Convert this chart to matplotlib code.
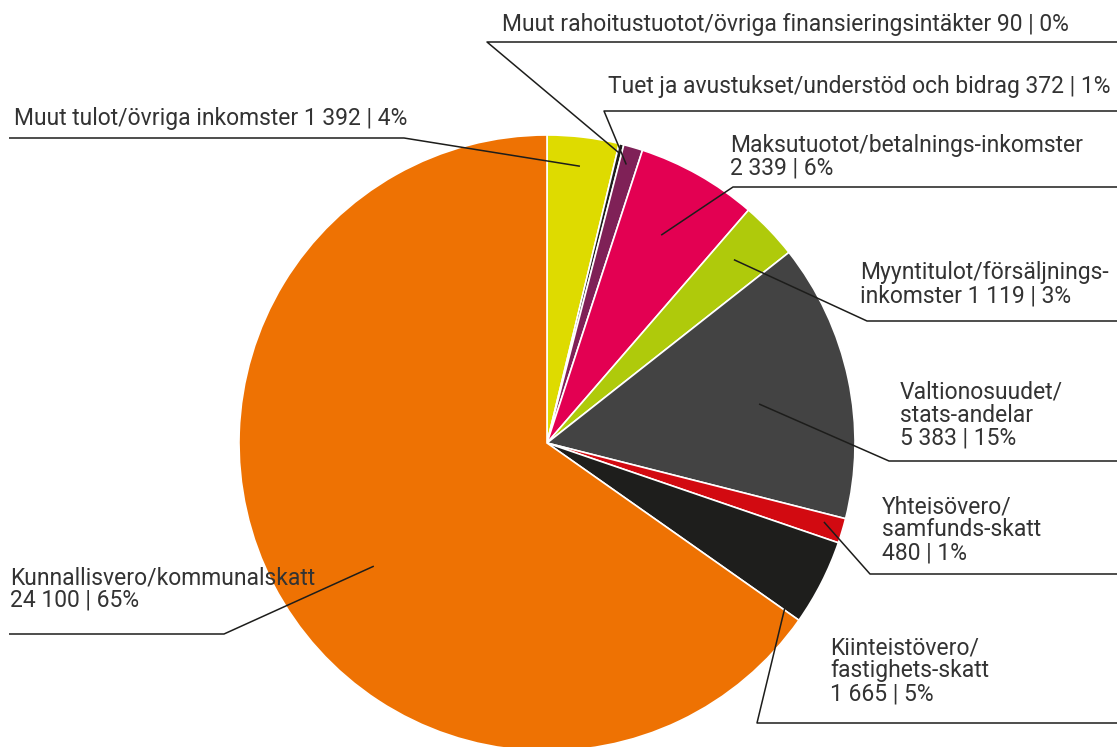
import numpy as np
import matplotlib
matplotlib.use("Agg")
import matplotlib.pyplot as plt

plt.rcParams['font.family'] = ['Roboto', 'DejaVu Sans']

# Revenue items, clockwise from the top
labels = [
    "Muut tulot/övriga inkomster 1 392 | 4%",
    "Muut rahoitustuotot/övriga finansieringsintäkter 90 | 0%",
    "Tuet ja avustukset/understöd och bidrag 372 | 1%",
    "Maksutuotot/betalnings-inkomster\n2 339 | 6%",
    "Myyntitulot/försäljnings-\ninkomster 1 119 | 3%",
    "Valtionosuudet/\nstats-andelar\n5 383 | 15%",
    "Yhteisövero/\nsamfunds-skatt\n480 | 1%",
    "Kiinteistövero/\nfastighets-skatt\n1 665 | 5%",
    "Kunnallisvero/kommunalskatt\n24 100 | 65%",
]
values = [1392, 90, 372, 2339, 1119, 5383, 480, 1665, 24100]
colors = ["#dedb00", "#1d1d1b", "#7f2157", "#e30052", "#afca0b",
          "#434343", "#d20a11", "#1e1e1c", "#ee7203"]

W, H = 1117, 747
cx, cy, R = 547, H - 443, 308

# label layout in pixel coordinates (y from top):
# (position inside slice, radius fraction, elbow x, elbow y, line end x, text x, text center y)
layout = [
    (0.50, 0.905, 404, 138, 9, 14, 118),
    (0.50, 0.97, 487, 42, W, 502, 25),
    (0.40, 0.94, 604, 111, W, 608, 87),
    (0.47, 0.77, 733, 187, W, 730, 157),
    (0.43, 0.85, 867, 321, W, 860, 284),
    (0.53, 0.70, 889, 461, W, 900, 415),
    (0.36, 0.935, 870, 574, W, 882, 530),
    (0.98, 0.94, 757, 723, W, 830, 671),
    (0.466, 0.69, 224, 634, 9, 10, 589),
]

fig = plt.figure(figsize=(W / 100, H / 100), dpi=100)
ax = fig.add_axes([0, 0, 1, 1])

wedges, _ = ax.pie(values, colors=colors, startangle=90, counterclock=False,
                   center=(cx, cy), radius=R,
                   wedgeprops=dict(edgecolor="white", linewidth=1.2))

for w, lab, (f, rf, ex, ey, lx, tx, ty) in zip(wedges, labels, layout):
    # wedges go clockwise, so theta2 is the start of each slice
    ang = np.radians(w.theta2 - f * (w.theta2 - w.theta1))
    px = cx + rf * R * np.cos(ang)
    py = cy + rf * R * np.sin(ang)
    ax.plot([px, ex, lx], [py, H - ey, H - ey], color="#1d1d1b", lw=1.1,
            solid_capstyle="butt", zorder=5)
    ax.text(tx, H - ty, lab, ha="left", va="center", fontsize=16.5,
            color="#333333", linespacing=1.0)

ax.set_xlim(0, W)
ax.set_ylim(0, H)
ax.set_aspect("equal")
ax.axis("off")

fig.savefig("out.png", dpi=100)
